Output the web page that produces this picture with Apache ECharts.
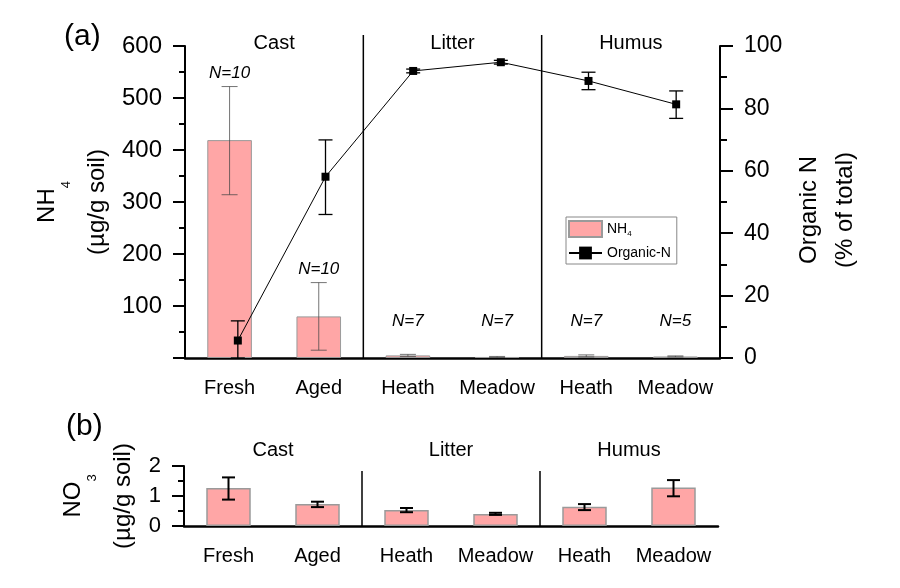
<!DOCTYPE html>
<html><head><meta charset="utf-8">
<script src="https://cdn.jsdelivr.net/npm/echarts@6/dist/echarts.min.js"></script>
<style>html,body{margin:0;padding:0;background:#fff}#c{width:900px;height:588px}</style>
</head><body><div id="c"></div>
<script>
// ---- data ----
const categories = ['Fresh', 'Aged', 'Heath', 'Meadow', 'Heath', 'Meadow'];
const groups = ['Cast', 'Litter', 'Humus'];
const nh4 = [419, 80, 5, 2, 4, 3];
const nh4Low = [314, 15, 3, 1, 2, 2];
const nh4High = [522, 145, 7, 3, 6, 4];
const nLabels = ['N=10', 'N=10', 'N=7', 'N=7', 'N=7', 'N=5'];
const orgN = [5.6, 58.1, 92.0, 94.8, 88.8, 81.3];
const orgNLow = [0, 46.0, 91.4, 94.2, 86.0, 76.8];
const orgNHigh = [11.9, 69.9, 92.6, 95.4, 91.6, 85.6];
const no3 = [1.27, 0.73, 0.53, 0.40, 0.64, 1.28];
const no3Low = [0.88, 0.63, 0.46, 0.37, 0.53, 0.99];
const no3High = [1.62, 0.81, 0.60, 0.44, 0.73, 1.53];
const nh4Axis = { min: 0, max: 600, interval: 100 };
const orgAxis = { min: 0, max: 100, interval: 20 };
const no3Axis = { min: 0, max: 2, interval: 1 };

// ---- styling ----
const FONT = "'Liberation Sans', Arial, sans-serif";
const BAR_COLOR = '#ffa6a6';
const chart = echarts.init(document.getElementById('c'));

function errorRenderer(color, lw, cap) {
  return function (params, api) {
    const i = api.value(0);
    const lo = api.coord([i, api.value(1)]);
    const hi = api.coord([i, api.value(2)]);
    const st = { stroke: color, lineWidth: lw };
    return { type: 'group', children: [
      { type: 'line', shape: { x1: lo[0], y1: lo[1], x2: hi[0], y2: hi[1] }, style: st },
      { type: 'line', shape: { x1: hi[0] - cap / 2, y1: hi[1], x2: hi[0] + cap / 2, y2: hi[1] }, style: st },
      { type: 'line', shape: { x1: lo[0] - cap / 2, y1: lo[1], x2: lo[0] + cap / 2, y2: lo[1] }, style: st }
    ] };
  };
}
function sepRenderer(topOffset) {
  return function (params, api) {
    const i = api.value(0);
    const p = api.coord([i, 0]);
    const band = api.size([1, 0])[0];
    const x = p[0] + band / 2;
    return { type: 'line', shape: { x1: x, y1: params.coordSys.y + topOffset, x2: x, y2: p[1] },
      style: { stroke: '#000', lineWidth: 1.5 } };
  };
}
function groupRenderer(yOffset) {
  return function (params, api) {
    const i = api.value(0);
    const p = api.coord([i, 0]);
    const band = api.size([1, 0])[0];
    return { type: 'text', x: p[0] + band / 2, y: params.coordSys.y + yOffset,
      style: { text: groups[params.dataIndex], font: '20px ' + FONT, fill: '#000', align: 'center', verticalAlign: 'middle' } };
  };
}
const sepData = groups.slice(0, -1).map((g, k) => [2 * k + 1, 0]);
const groupData = groups.map((g, k) => [2 * k, 0]);

const yName = () => ({
  fontFamily: FONT, fontSize: 24, color: '#000', lineHeight: 50,
  rich: {
    m: { fontFamily: FONT, fontSize: 24, lineHeight: 50, color: '#000' },
    s: { fontFamily: FONT, fontSize: 13, lineHeight: 13, padding: [38, 0, 0, 0], color: '#000' }
  }
});
const xLabel = { color: '#000', fontSize: 20, margin: 20, fontFamily: FONT, interval: 0 };

const option = {
  animation: false,
  backgroundColor: '#fff',
  textStyle: { fontFamily: FONT },
  grid: [
    { left: 185, right: 180, top: 46, bottom: 230 },
    { left: 184, right: 182, top: 466, bottom: 62 },
    { left: 194, right: 180, top: 46, bottom: 230 }
  ],
  graphic: [
    { type: 'text', left: 64, top: 22, style: { text: '(a)', font: '30px ' + FONT, fill: '#000' } },
    { type: 'text', left: 66, top: 412, style: { text: '(b)', font: '30px ' + FONT, fill: '#000' } }
  ],
  legend: {
    left: 566, top: 217, orient: 'vertical', selectedMode: false,
    borderColor: '#888', borderWidth: 1, padding: [3, 6, 4, 2], itemGap: 8,
    itemWidth: 33, itemHeight: 16,
    data: [{ name: 'NH4', icon: 'rect' }, { name: 'Organic-N' }],
    formatter: n => n === 'NH4' ? 'NH{s|4}' : n,
    textStyle: { fontFamily: FONT, fontSize: 14, color: '#000',
      rich: { s: { fontFamily: FONT, fontSize: 8, padding: [10, 0, 0, 0], color: '#000' } } }
  },
  xAxis: [
    { type: 'category', gridIndex: 0, data: categories,
      axisLine: { lineStyle: { color: '#000', width: 2.5 } },
      axisTick: { alignWithLabel: true, interval: 0, length: 12, lineStyle: { color: '#000', width: 2.5 } },
      axisLabel: xLabel },
    { type: 'category', gridIndex: 1, data: categories,
      axisLine: { lineStyle: { color: '#000', width: 2.5 } },
      axisTick: { alignWithLabel: true, interval: 0, length: 12, lineStyle: { color: '#000', width: 2.5 } },
      axisLabel: xLabel },
    { type: 'category', gridIndex: 2, data: categories, show: false }
  ],
  yAxis: [
    { type: 'value', gridIndex: 0, min: nh4Axis.min, max: nh4Axis.max, interval: nh4Axis.interval,
      name: '{m|NH}{s|4}\n{m|(µg/g soil)}', nameLocation: 'middle', nameRotate: 90, nameGap: 63,
      nameMoveOverlap: false,
      nameTextStyle: yName(),
      splitLine: { show: false },
      axisLine: { show: true, lineStyle: { color: '#000', width: 2 } },
      axisTick: { show: true, length: 12, lineStyle: { color: '#000', width: 2 } },
      minorTick: { show: true, splitNumber: 2, length: 6, lineStyle: { color: '#000', width: 2 } },
      axisLabel: { color: '#000', fontSize: 24, margin: 23, fontFamily: FONT, formatter: v => v === 0 ? '' : v } },
    { type: 'value', gridIndex: 1, min: no3Axis.min, max: no3Axis.max, interval: no3Axis.interval,
      name: '{m|NO}{s|3}\n{m|(µg/g soil)}', nameLocation: 'middle', nameRotate: 90, nameGap: 36,
      nameMoveOverlap: false,
      nameTextStyle: yName(),
      splitLine: { show: false },
      axisLine: { show: true, lineStyle: { color: '#000', width: 2 } },
      axisTick: { show: true, length: 12, lineStyle: { color: '#000', width: 2 } },
      minorTick: { show: true, splitNumber: 2, length: 6, lineStyle: { color: '#000', width: 2 } },
      axisLabel: { color: '#000', fontSize: 22, margin: 23, fontFamily: FONT } },
    { type: 'value', gridIndex: 2, position: 'right', min: orgAxis.min, max: orgAxis.max, interval: orgAxis.interval,
      name: 'Organic N\n(% of total)', nameLocation: 'middle', nameRotate: 90, nameGap: 71,
      nameMoveOverlap: false,
      nameTextStyle: { fontFamily: FONT, fontSize: 24, color: '#000', lineHeight: 36, padding: [0, 16, 0, 0] },
      splitLine: { show: false },
      axisLine: { show: true, lineStyle: { color: '#000', width: 2 } },
      axisTick: { show: true, length: 13, lineStyle: { color: '#000', width: 2 } },
      minorTick: { show: true, splitNumber: 2, length: 7, lineStyle: { color: '#000', width: 2 } },
      axisLabel: { color: '#000', fontSize: 23, margin: 24, fontFamily: FONT } }
  ],
  series: [
    { name: 'NH4', type: 'bar', xAxisIndex: 0, yAxisIndex: 0, data: nh4, barWidth: '50%',
      itemStyle: { color: BAR_COLOR, borderColor: '#9a9a9a', borderWidth: 1 }, z: 2 },
    { type: 'custom', xAxisIndex: 0, yAxisIndex: 0, z: 3, clip: false,
      data: nh4.map((v, i) => [i, nh4Low[i], nh4High[i]]),
      renderItem: errorRenderer('rgba(70,70,70,0.75)', 1, 16) },
    { type: 'custom', xAxisIndex: 0, yAxisIndex: 0, z: 4, clip: false,
      data: nh4.map((v, i) => [i, nh4High[i]]),
      renderItem: function (params, api) {
        const i = api.value(0);
        const p = api.coord([i, Math.max(api.value(1), 45)]);
        return { type: 'text', x: p[0], y: p[1] - 13,
          style: { text: nLabels[i], font: 'italic 17px ' + FONT, fill: '#000', align: 'center', verticalAlign: 'middle' } };
      } },
    { type: 'custom', xAxisIndex: 0, yAxisIndex: 0, z: 4, clip: false, data: sepData, renderItem: sepRenderer(-11) },
    { type: 'custom', xAxisIndex: 0, yAxisIndex: 0, z: 4, clip: false, data: groupData, renderItem: groupRenderer(-3) },
    { name: 'Organic-N', type: 'line', xAxisIndex: 2, yAxisIndex: 2, data: orgN,
      symbol: 'rect', symbolSize: 8, lineStyle: { color: '#000', width: 1 }, itemStyle: { color: '#000' }, z: 6 },
    { type: 'custom', xAxisIndex: 2, yAxisIndex: 2, z: 6, clip: false,
      data: orgN.map((v, i) => [i, orgNLow[i], orgNHigh[i]]),
      renderItem: errorRenderer('#000', 1.3, 14) },
    { name: 'NO3', type: 'bar', xAxisIndex: 1, yAxisIndex: 1, data: no3, barWidth: '50%',
      itemStyle: { color: BAR_COLOR, borderColor: '#9a9a9a', borderWidth: 1.5 }, z: 2 },
    { type: 'custom', xAxisIndex: 1, yAxisIndex: 1, z: 3, clip: false,
      data: no3.map((v, i) => [i, no3Low[i], no3High[i]]),
      renderItem: errorRenderer('#000', 2, 13) },
    { type: 'custom', xAxisIndex: 1, yAxisIndex: 1, z: 4, clip: false, data: sepData, renderItem: sepRenderer(5) },
    { type: 'custom', xAxisIndex: 1, yAxisIndex: 1, z: 4, clip: false, data: groupData, renderItem: groupRenderer(-16) }
  ]
};
chart.setOption(option);
</script></body></html>
